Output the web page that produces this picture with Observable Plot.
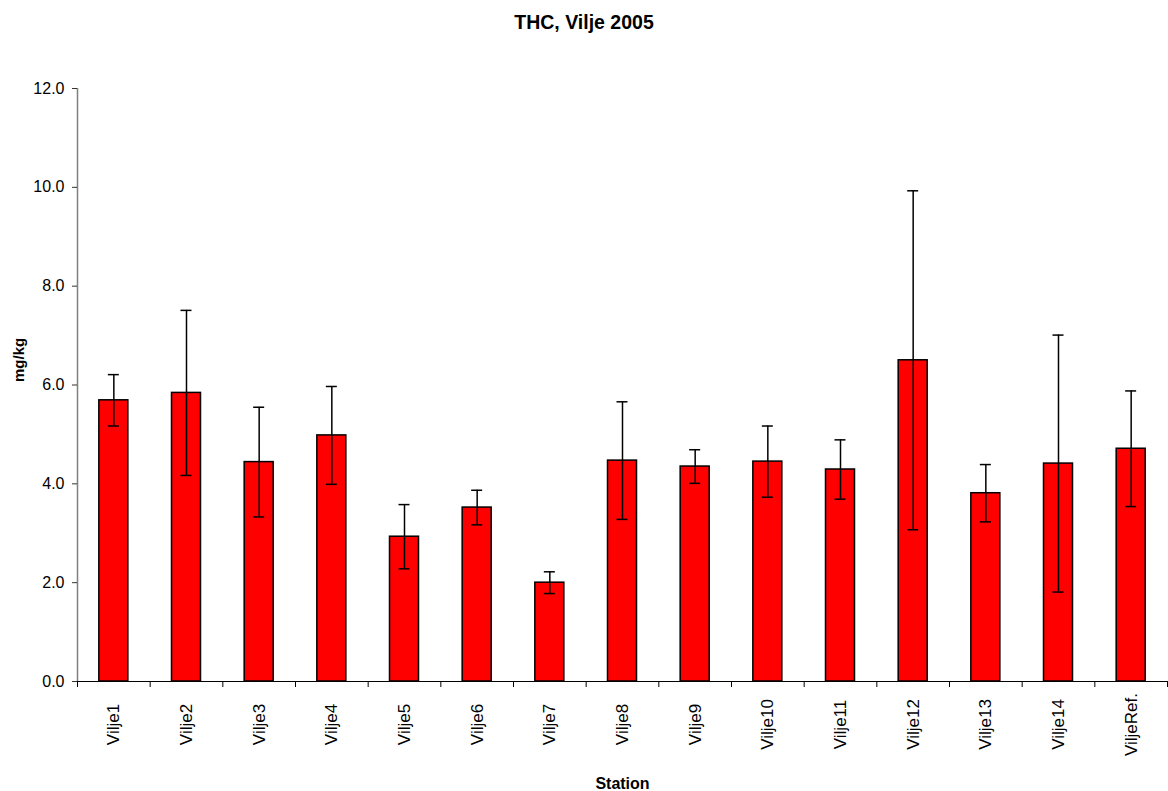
<!DOCTYPE html>
<html>
<head>
<meta charset="utf-8">
<script src="https://cdn.jsdelivr.net/npm/d3@7"></script>
<script src="https://cdn.jsdelivr.net/npm/@observablehq/plot@0.6"></script>
<style>
  html, body { margin: 0; padding: 0; background: #fff; }
  #title { height: 45px; display: flex; align-items: center; justify-content: center;
           font: bold 19.5px "Liberation Sans", Arial, sans-serif; color: #000; }
  #chart svg { display: block; }
</style>
</head>
<body>
<div id="title">THC, Vilje 2005</div>
<div id="chart"></div>
<script>
const stations = ["Vilje1","Vilje2","Vilje3","Vilje4","Vilje5","Vilje6","Vilje7","Vilje8","Vilje9","Vilje10","Vilje11","Vilje12","Vilje13","Vilje14","ViljeRef."];
const means    = [5.69, 5.84, 4.44, 4.98, 2.93, 3.52, 2.00, 4.47, 4.35, 4.45, 4.29, 6.50, 3.81, 4.41, 4.71];
const sds      = [0.52, 1.67, 1.11, 0.99, 0.65, 0.35, 0.22, 1.19, 0.34, 0.72, 0.60, 3.43, 0.58, 2.60, 1.17];
const yTicks   = [0, 2, 4, 6, 8, 10, 12];

const data = stations.map((s, i) => ({station: s, mean: means[i], lo: means[i] - sds[i], hi: means[i] + sds[i]}));

const W = 1168, H = 746;
const mL = 77, mR = 1, mT = 43, mB = 110;
const bw = (W - mL - mR) / stations.length;
const font = '"Liberation Sans", Arial, sans-serif';

const chart = Plot.plot({
  width: W, height: H,
  marginLeft: mL, marginRight: mR, marginTop: mT, marginBottom: mB,
  style: {fontFamily: font, fontSize: "16px", color: "#000", background: "#fff"},
  x: {type: "band", domain: stations, padding: 0, round: false, axis: null},
  y: {domain: [0, 12], axis: null},
  marks: [
    // bars
    Plot.barY(data, {x: "station", y: "mean", fill: "#ff0000", stroke: "#000", strokeWidth: 1.5,
      insetLeft: bw / 2 - 14.5, insetRight: bw / 2 - 14.5}),
    // error bars
    Plot.ruleX(data, {x: "station", y1: "lo", y2: "hi", stroke: "#000", strokeWidth: 1.5}),
    Plot.tickY(data, {x: "station", y: "lo", stroke: "#000", strokeWidth: 1.5, insetLeft: bw / 2 - 5.5, insetRight: bw / 2 - 5.5}),
    Plot.tickY(data, {x: "station", y: "hi", stroke: "#000", strokeWidth: 1.5, insetLeft: bw / 2 - 5.5, insetRight: bw / 2 - 5.5}),
    // y axis line
    Plot.ruleX([stations[0]], {x: d => d, dx: -bw / 2, y1: () => yTicks[0], y2: () => yTicks[yTicks.length - 1], stroke: "#808080", strokeWidth: 1.5}),
    // y axis ticks & labels
    Plot.axisY({ticks: yTicks, tickFormat: d => d.toFixed(1), tickSize: 5, tickPadding: 8, stroke: "#333", label: null, fontSize: 16}),
    // x baseline
    Plot.ruleY([0], {stroke: "#000", strokeWidth: 1.2}),
    // x boundary ticks
    Plot.axisX({ticks: stations, tickFormat: () => "", tickSize: 6, dx: -bw / 2, label: null}),
    Plot.axisX({ticks: [stations[stations.length - 1]], tickFormat: () => "", tickSize: 6, dx: bw / 2, label: null}),
    // category labels
    Plot.text(stations, {x: d => d, frameAnchor: "bottom", dy: 43, rotate: -90, textAnchor: "middle", lineAnchor: "middle", fontSize: 17, fill: "#000"}),
    // axis titles
    Plot.text(["Station"], {frameAnchor: "bottom", dy: 102, fontWeight: "bold", fontSize: 16, fill: "#000", lineAnchor: "middle"}),
    Plot.text(["mg/kg"], {frameAnchor: "left", dx: -58.5, dy: -3, rotate: -90, fontWeight: "bold", fontSize: 15, fill: "#000", lineAnchor: "middle"})
  ]
});
document.getElementById("chart").appendChild(chart);
</script>
</body>
</html>
